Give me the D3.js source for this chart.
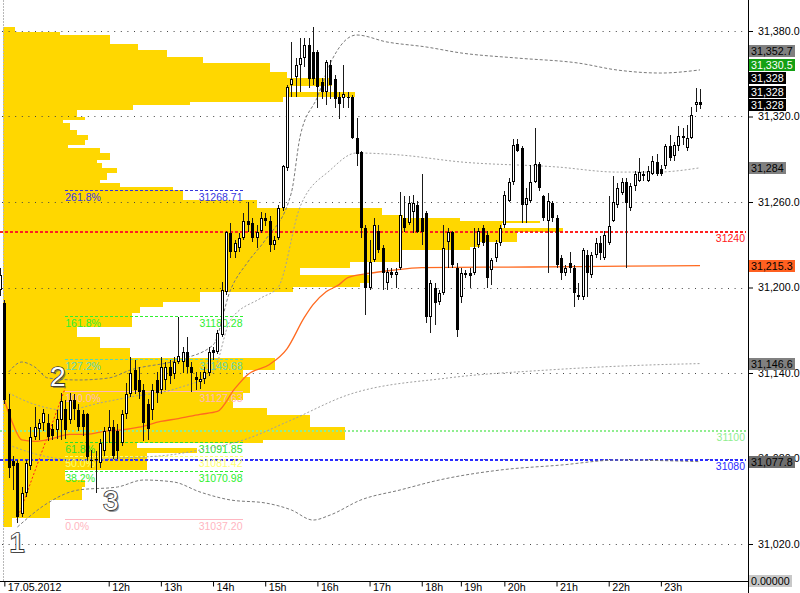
<!DOCTYPE html>
<html><head><meta charset="utf-8">
<script src="https://cdn.jsdelivr.net/npm/d3@7"></script>
<style>
html,body{margin:0;padding:0;background:#fff;}
svg{display:block;font-family:"Liberation Sans",Arial,sans-serif;}
</style></head><body>
<svg id="c" width="800" height="593"></svg>
<script>
// ---------- DATA ----------
const opens = [31198,31189,31115,31078,31077,31041,31056,31075,31095,31101,31105,31105,31101,31100,31107,31115,31107,31121,31114,31111,31111,31079,31079,31077,31085,31099,31102,31099,31091,31111,31125,31142,31135,31128,31118,31114,31135,31128,31135,31144,31139,31148,31148,31155,31144,31137,31134,31136,31140,31156,31155,31167,31197,31238,31225,31228,31235,31247,31245,31235,31240,31249,31247,31230,31235,31256,31284,31342,31348,31356,31361,31370,31365,31365,31344,31337,31356,31346,31334,31333,31334,31334,31305,31295,31242,31200,31219,31240,31228,31203,31211,31209,31214,31249,31245,31253,31258,31249,31252,31179,31200,31190,31196,31232,31239,31214,31193,31209,31210,31210,31230,31242,31237,31212,31221,31231,31244,31261,31274,31301,31298,31258,31261,31274,31287,31264,31247,31259,31249,31221,31210,31217,31214,31193,31193,31223,31209,31223,31231,31221,31231,31247,31258,31266,31274,31256,31271,31275,31280,31275,31280,31288,31283,31285,31299,31292,31299,31306,31298,31305,31328,31330];
const highs = [31214,31191,31125,31082,31079,31060,31079,31102,31116,31108,31115,31111,31104,31114,31126,31121,31126,31125,31118,31114,31112,31086,31085,31094,31102,31114,31107,31104,31114,31133,31151,31149,31144,31132,31122,31132,31141,31151,31148,31149,31151,31179,31158,31165,31148,31141,31141,31144,31158,31158,31170,31204,31240,31245,31233,31238,31252,31260,31249,31244,31253,31252,31250,31236,31258,31286,31342,31372,31361,31375,31375,31375,31383,31367,31347,31360,31360,31349,31337,31356,31337,31335,31319,31296,31244,31233,31249,31244,31230,31214,31214,31214,31267,31264,31264,31265,31261,31280,31254,31205,31203,31198,31244,31242,31240,31217,31214,31212,31214,31242,31242,31244,31240,31221,31233,31244,31268,31277,31304,31304,31299,31270,31286,31312,31288,31265,31266,31261,31251,31223,31216,31225,31216,31203,31228,31226,31225,31235,31236,31240,31264,31278,31273,31277,31277,31273,31282,31291,31282,31285,31292,31294,31286,31301,31307,31302,31313,31312,31314,31327,31340,31339];
const lows = [31194,31118,31066,31058,31035,31039,31053,31072,31093,31093,31099,31092,31093,31094,31093,31094,31104,31107,31099,31096,31078,31073,31056,31073,31082,31091,31080,31080,31089,31108,31123,31125,31122,31092,31093,31107,31119,31125,31128,31132,31136,31146,31140,31140,31127,31128,31129,31132,31138,31149,31153,31165,31195,31221,31221,31225,31233,31239,31232,31228,31238,31243,31225,31226,31233,31254,31282,31334,31334,31337,31355,31340,31342,31326,31332,31328,31332,31326,31318,31326,31326,31304,31285,31235,31181,31198,31218,31224,31198,31198,31207,31200,31212,31239,31244,31238,31238,31230,31175,31168,31174,31188,31195,31214,31214,31165,31189,31207,31200,31209,31228,31229,31200,31202,31218,31229,31242,31260,31272,31295,31245,31245,31259,31273,31268,31247,31210,31246,31214,31205,31208,31210,31186,31191,31191,31193,31207,31221,31219,31219,31230,31246,31256,31265,31214,31254,31268,31274,31275,31274,31279,31278,31278,31283,31289,31289,31296,31300,31296,31304,31323,31325];
const closes = [31209,31121,31073,31075,31039,31056,31077,31095,31102,31105,31112,31095,31096,31108,31120,31100,31121,31115,31102,31102,31081,31078,31080,31091,31099,31102,31082,31085,31111,31125,31140,31128,31127,31105,31101,31128,31126,31144,31144,31138,31148,31152,31155,31144,31140,31135,31136,31141,31155,31154,31168,31198,31239,31225,31231,31235,31247,31244,31235,31239,31249,31247,31230,31233,31256,31285,31341,31346,31356,31361,31370,31346,31346,31341,31337,31358,31342,31332,31329,31336,31333,31305,31294,31242,31200,31218,31244,31226,31210,31211,31209,31211,31251,31242,31259,31259,31239,31239,31179,31203,31189,31196,31228,31239,31216,31170,31210,31210,31208,31228,31240,31231,31207,31219,31231,31242,31265,31274,31300,31296,31258,31263,31274,31287,31270,31249,31261,31249,31216,31210,31214,31214,31196,31195,31226,31210,31223,31231,31224,31237,31243,31260,31270,31274,31259,31271,31280,31281,31278,31282,31289,31280,31280,31299,31291,31300,31306,31305,31305,31321,31330,31328];

// volume profile: price edges (top->bottom) and volume per segment
const profEdges = [31382.8,31379.3,31377.2,31370.9,31366.7,31361.7,31357.5,31351.2,31347.0,31341.4,31337.2,31333.7,31330.2,31328.1,31324.6,31319.6,31317.5,31315.4,31310.5,31307.0,31303.5,31300.0,31297.9,31294.4,31289.5,31287.4,31283.9,31280.3,31275.4,31273.3,31270.5,31268.4,31261.4,31255.8,31250.9,31248.8,31246.6,31245.3,31241.8,31238.9,31231.9,31228.4,31226.3,31217.9,31213.7,31208.8,31203.2,31200.3,31196.8,31189.8,31186.3,31182.1,31172.3,31165.3,31157.5,31150.5,31142.1,31137.2,31126.0,31121.1,31115.4,31110.5,31102.1,31093.0,31090.9,31087.4,31083.9,31071.9,31064.9,31060.0,31050.9,31038.3,31032.0];
const profVol = [12,57,107,135,164,200,267,284,329,287,352,280,187,130,74,82,60,67,74,85,82,65,97,107,94,99,114,104,97,117,170,180,254,379,400,457,537,499,560,514,477,467,399,347,297,367,357,290,197,160,137,129,74,97,127,272,240,247,240,230,264,307,342,260,134,194,144,62,82,79,47,9];

// moving average (bar index, price)
const maIdx = [1,3,5,8,12,16,20,24,28,32,37,41,46,50,54,57,62,66,70,72,75,78,80,85,90,97,122,144,161];
const maVal = [31121,31104,31093,31092,31094,31097,31097,31099,31100,31102,31106,31108,31111,31113,31129,31139,31146,31157,31179,31188,31197,31202,31207,31210,31212,31214,31214.4,31215,31215.3];

// envelope bands (bar index, price)
const bandAUpIdx = [2,5,8,11,18,25,30,41,49,53,57,61,67,69,73,76,82,89,98,106,119,133,142,152,161];
const bandAUpVal = [31140.7,31147.7,31144.2,31136.5,31135.1,31136.5,31142.1,31149.1,31159.6,31198.2,31217.9,31233.3,31266.3,31305.6,31333.7,31357.5,31377.2,31372.3,31368.8,31364.6,31361.0,31357.5,31352.6,31350.5,31352.7];
const bandALoIdx = [4,11,18,27,33,40,46,53,61,67,72,76,83,92,101,115,129,142,161];
const bandALoVal = [31031.9,31048.8,31057.9,31060.0,31064.9,31063.5,31056.5,31050.9,31048.8,31043.9,31036.8,31040.4,31050.9,31057.9,31064.9,31071.9,31075.4,31078.9,31077.8];
const bandBUpIdx = [2,7,15,23,30,41,49,53,60,64,69,76,82,92,106,128,142,151,161];
const bandBUpVal = [31126.0,31119.0,31114.0,31119.0,31123.2,31129.5,31140.7,31177.2,31192.6,31200.3,31256.5,31282.5,31294.4,31293.0,31288.1,31284.6,31281.0,31281.0,31284.0];
const bandBLoIdx = [2,9,18,27,39,46,56,67,80,103,126,149,161];
const bandBLoVal = [31089.5,31082.5,31078.9,31080.3,31082.5,31086.0,31093.0,31107.0,31124.6,31136.5,31142.1,31145.6,31146.6];

// fibonacci
const fibPct = ["261.8%","161.8%","127.2%","100.0%","61.8%","50.0%","38.2%","0.0%"];
const fibPrice = [31268.71,31180.28,31149.68,31127.63,31091.85,31081.42,31070.98,31037.20];
const fibColor = ["#3535E0","#2EF02E","#5CD6B4","#FFB6C1","#2EE02E","#FFFF70","#2EF02E","#FFB6C1"];
const fibSolid = [false,false,false,true,false,false,false,true];
const fibFrom = 15, fibTo = 56;

// horizontal levels
const levelPrice = [31240,31100,31080];
const levelText = ["31240","31100","31080"];
const levelColor = ["#FF2020","#90EE90","#2B2BFF"];

// axes
const yTicks = [31020,31080,31140,31200,31260,31320,31380];
const timeIdx = [1,25,37,49,61,73,85,97,106,116,128,140,152];
const timeLabels = ["17.05.2012","12h","13h","14h","15h","16h","17h","18h","19h","20h","21h","22h","23h"];

// right price tags
const stackText = ["31,352.7","31,330.5","31,328","31,328","31,328"];
const stackBg = ["#808080","#14A014","#000000","#000000","#000000"];
const stackFg = ["#000000","#ffffff","#ffffff","#ffffff","#ffffff"];
const stackBase = 31328;
const tagPrice = [31284,31215.3,31146.6,31077.8];
const tagText = ["31,284","31,215.3","31,146.6","31,077.8"];
const tagBg = ["#808080","#FF6020","#808080","#6E6E6E"];

// wave labels
const waveText = ["1","2","3"];
const waveIdx = [3.9,13.3,25.5];
const wavePrice = [31021.4,31137.2,31050.2];
const waveLineIdx = [3.9,15];
const waveLinePrice = [31036.8,31129.5];

// ---------- DRAW ----------
const svg = d3.select('#c');
const AX = 748, BY = 581.5;
const x = d3.scaleLinear().domain([0,161]).range([0,700]);
const y = d3.scaleLinear().domain([31020,31380]).range([544,31]);
const vx = d3.scaleLinear().domain([0,600]).range([3,603]);
const FONT = '"Liberation Sans",Arial,sans-serif';

// volume profile
const gP = svg.append('g').attr('shape-rendering','crispEdges');
profVol.forEach((v,i)=>{
  const y0 = Math.round(y(profEdges[i])), y1 = Math.round(y(profEdges[i+1]));
  gP.append('rect').attr('x',vx(0)).attr('y',y0).attr('width',vx(v)-vx(0)).attr('height',Math.max(1,y1-y0)).attr('fill','#FFD700');
});

// left border line
svg.append('line').attr('x1',3.5).attr('x2',3.5).attr('y1',0).attr('y2',BY).attr('stroke','#b8b8b8').attr('stroke-dasharray','2,1');

// grid
yTicks.forEach(t=>{
  const yy = Math.round(y(t))+0.5;
  svg.append('line').attr('x1',2).attr('x2',AX-4).attr('y1',yy).attr('y2',yy)
    .attr('stroke','#444').attr('stroke-dasharray','1,5.6');
});

// horizontal levels
const gL = svg.append('g').attr('shape-rendering','crispEdges');
levelPrice.forEach((p,i)=>{
  const yy = Math.round(y(p));
  gL.append('line').attr('x1',0).attr('x2',AX-2).attr('y1',yy+1).attr('y2',yy+1)
    .attr('stroke',levelColor[i]).attr('stroke-width',2).attr('stroke-dasharray', i===1 ? '2,2' : '3,2');
  svg.append('text').attr('x',AX-3).attr('y',yy+11).attr('text-anchor','end')
    .attr('font-size',10.5).attr('fill',levelColor[i]).text(levelText[i]);
});

// fibonacci
const gF = svg.append('g');
fibPrice.forEach((p,i)=>{
  const yy = Math.round(y(p))+0.5;
  gF.append('line').attr('x1',x(fibFrom)).attr('x2',x(fibTo)).attr('y1',yy).attr('y2',yy)
    .attr('stroke',fibColor[i]).attr('stroke-width',fibSolid[i]?1.8:1.3)
    .attr('shape-rendering','crispEdges')
    .attr('stroke-dasharray',fibSolid[i]?null:'3,2');
  gF.append('text').attr('x',x(fibFrom)).attr('y',yy+10).attr('font-size',10.5).attr('fill',fibColor[i]).text(fibPct[i]);
  gF.append('text').attr('x',x(fibTo)-1).attr('y',yy+10).attr('text-anchor','end').attr('font-size',10.5).attr('fill',fibColor[i]).text(p.toFixed(2));
});

// wave line
svg.append('line').attr('x1',x(waveLineIdx[0])).attr('y1',y(waveLinePrice[0]))
  .attr('x2',x(waveLineIdx[1])).attr('y2',y(waveLinePrice[1]))
  .attr('stroke','#FF2020').attr('stroke-dasharray','2,2');

// bands
const mkLine = (idx,val)=> d3.line().x((d,i)=>x(idx[i])).y((d,i)=>y(val[i])).curve(d3.curveMonotoneX)(idx);
[[bandAUpIdx,bandAUpVal,'#7a7a7a','3,2'],[bandALoIdx,bandALoVal,'#7a7a7a','3,2'],
 [bandBUpIdx,bandBUpVal,'#a0a0a0','2,2'],[bandBLoIdx,bandBLoVal,'#a0a0a0','2,2']].forEach(b=>{
  svg.append('path').attr('d',mkLine(b[0],b[1])).attr('fill','none').attr('stroke',b[2]).attr('stroke-dasharray',b[3]).attr('stroke-width',1);
});

// moving average
svg.append('path').attr('d',mkLine(maIdx,maVal)).attr('fill','none').attr('stroke','#FF6A20').attr('stroke-width',1.3);

// candles
const gC = svg.append('g').attr('shape-rendering','crispEdges');
opens.forEach((o,i)=>{
  const c = closes[i], h = highs[i], l = lows[i];
  const cx = Math.round(x(i));
  const yh = Math.round(y(h)), yl = Math.round(y(l));
  gC.append('rect').attr('x',cx).attr('y',yh).attr('width',1).attr('height',Math.max(1,yl-yh)).attr('fill','#1a1a1a');
  const top = Math.round(y(Math.max(o,c))), bot = Math.round(y(Math.min(o,c)));
  const hgt = Math.max(1,bot-top);
  gC.append('rect').attr('x',cx-1).attr('y',top).attr('width',3).attr('height',hgt).attr('fill','#000');
  if (c>o && hgt>2) gC.append('rect').attr('x',cx).attr('y',top+1).attr('width',1).attr('height',hgt-2).attr('fill','#fff');
});

// wave labels
waveText.forEach((t,i)=>{
  svg.append('text').attr('x',x(waveIdx[i])+1.5).attr('y',y(wavePrice[i])+1.5).attr('text-anchor','middle')
    .attr('dominant-baseline','central').attr('font-size',28).attr('fill','#555').attr('opacity',0.6).text(t);
  svg.append('text').attr('x',x(waveIdx[i])).attr('y',y(wavePrice[i])).attr('text-anchor','middle')
    .attr('dominant-baseline','central').attr('font-size',28).attr('fill','#fff')
    .attr('stroke','#333').attr('stroke-width',1.6).attr('paint-order','stroke').text(t);
});

// right axis
svg.append('rect').attr('x',AX+1).attr('y',0).attr('width',52).attr('height',593).attr('fill','#fff');
svg.append('line').attr('x1',AX+0.5).attr('x2',AX+0.5).attr('y1',0).attr('y2',593).attr('stroke','#000');
const ra = d3.axisRight(y).tickValues(yTicks).tickFormat(d3.format(',.1f')).tickSize(4).tickPadding(5);
const gR = svg.append('g').attr('transform',`translate(${AX+1},0)`).call(ra);
gR.select('.domain').remove();
gR.selectAll('text').attr('font-size',10.7).attr('font-family',FONT).attr('fill','#000');
gR.selectAll('line').attr('stroke','#000');

// bottom axis
svg.append('rect').attr('x',0).attr('y',BY).attr('width',AX).attr('height',593-BY).attr('fill','#fff');
svg.append('line').attr('x1',0).attr('x2',AX).attr('y1',BY).attr('y2',BY).attr('stroke','#000');
const ba = d3.axisBottom(x).tickValues(timeIdx).tickFormat((d,i)=>timeLabels[i]).tickSize(5).tickPadding(0);
const gB = svg.append('g').attr('transform',`translate(0,${BY})`).call(ba);
gB.select('.domain').remove();
gB.selectAll('line').attr('stroke','#000');
gB.selectAll('text').attr('text-anchor','start').attr('dx',3).attr('y',1).attr('dy','0.8em')
  .attr('font-size',10.7).attr('font-family',FONT).attr('fill','#000');

// price tags
function tag(yc, txt, bg, fg){
  const g = svg.append('g');
  const t = g.append('text').attr('x',AX+3).attr('y',yc+4).attr('font-size',10.7).attr('font-family',FONT).attr('fill',fg).text(txt);
  const w = t.node().getComputedTextLength();
  g.insert('rect','text').attr('x',AX+1).attr('y',Math.round(yc-6)).attr('width',Math.ceil(w)+4).attr('height',12).attr('fill',bg);
}
tagPrice.forEach((p,i)=>tag(y(p),tagText[i],tagBg[i],'#000'));
const baseY = y(stackBase);
stackText.forEach((t,i)=>{
  const k = stackText.length-1-i;
  tag(baseY - k*13.5, t, stackBg[i], stackFg[i]);
});
tag(BY-0.5, '0.00000', '#C8C8C8', '#000');
</script>
</body></html>
